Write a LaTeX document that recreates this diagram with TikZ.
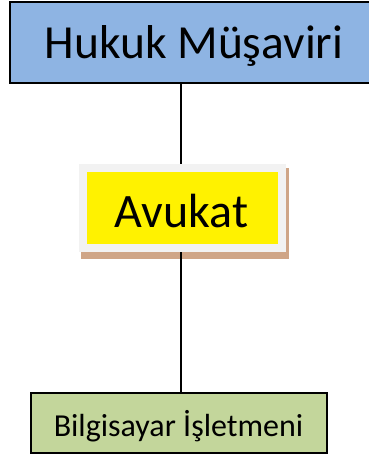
\documentclass[tikz,border=0pt]{standalone}
\usepackage{fontspec}
\setmainfont{Carlito}
\definecolor{topblue}{HTML}{8EB4E3}
\definecolor{botgreen}{HTML}{C3D69B}
\definecolor{frameg}{HTML}{F2F2F2}
\definecolor{shadowt}{HTML}{CFA587}
\begin{document}
\begin{tikzpicture}[x=1pt,y=-1pt,
  boxline/.style={draw=black,line width=1.6pt},
  conn/.style={draw=black,line width=1.4pt}]
\useasboundingbox (0,0) rectangle (369,458);
\begin{scope}
\clip (0,0) rectangle (369,458);
\path[boxline,fill=topblue] (10,2) rectangle (380,83);
\end{scope}
\node[font=\fontsize{47.5}{50}\selectfont,anchor=base] (top) at (194,58) {Hukuk Müşaviri};
\coordinate (topb) at (181,83);
% Avukat
\fill[shadowt] (81,168) rectangle (289,259);
\fill[frameg] (79,164) rectangle (286,252);
\fill[yellow] (87,172) rectangle (278,244);
\node[font=\fontsize{48}{50}\selectfont,anchor=base] (av) at (181.5,227) {Avukat};
\coordinate (avt) at (181,164);
\coordinate (avb) at (181,252);
% bottom
\path[boxline,fill=botgreen] (31,393) rectangle (327,453);
\node[font=\fontsize{32}{34}\selectfont,anchor=base] (bi) at (178.5,436) {Bilgisayar İşletmeni};
\coordinate (bit) at (181,393);
\draw[conn] (topb) -- (avt);
\draw[conn] (avb) -- (bit);
\end{tikzpicture}
\end{document}
